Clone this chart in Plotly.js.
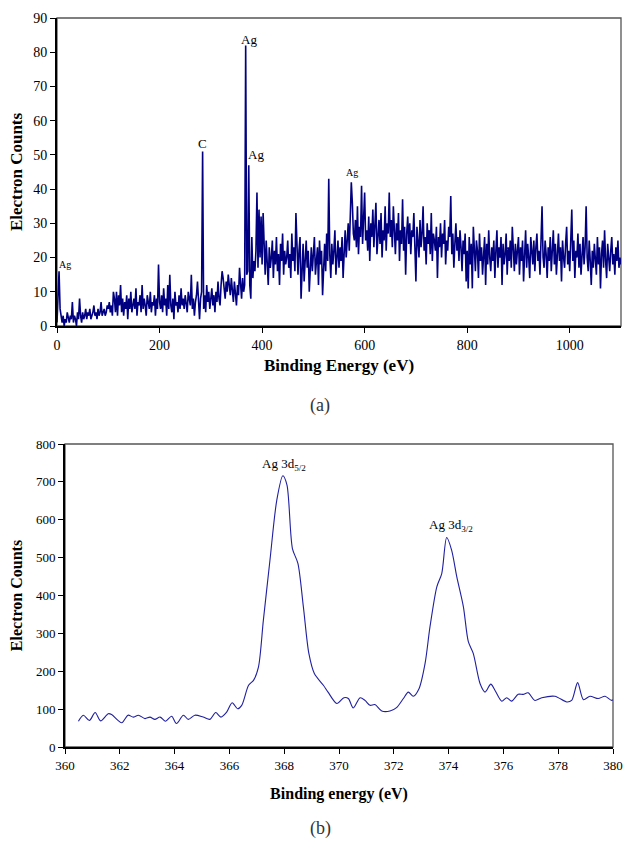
<!DOCTYPE html>
<html>
<head>
<meta charset="utf-8">
<script src="https://cdn.plot.ly/plotly-3.0.1.min.js"></script>
<style>
html,body{margin:0;padding:0;background:#fff;}
#chart{width:624px;height:845px;}
</style>
</head>
<body>
<div id="chart"></div>
<script>
// ---- Survey spectrum (a): binding energy grid 0..1100 eV, 2 eV step ----
const surveyStart = 0;
const surveyStep = 2;
const surveyCounts = [
  1,9,16,5,2,1,3,0,2,1,4,2,1,3,2,7,1,3,2,0,4,2,8,3,1,
  4,2,3,5,2,4,3,5,2,3,4,6,3,4,2,5,3,4,7,3,4,5,3,4,6,
  5,7,4,6,3,10,8,4,10,3,9,6,12,4,8,3,7,5,9,2,8,5,10,4,6,
  8,5,11,3,7,6,9,4,12,5,8,6,3,9,7,5,10,4,7,6,9,3,8,5,18,
  7,5,9,4,11,6,8,3,12,5,15,6,4,8,2,10,6,7,4,9,5,11,6,8,5,
  9,6,4,10,7,6,15,5,8,3,7,9,13,6,2,8,10,51,5,9,4,12,7,10,5,
  8,11,6,9,4,10,7,13,8,6,12,16,14,11,8,13,10,15,12,9,14,11,7,13,10,
  6,12,9,17,11,8,14,10,12,82,15,16,47,12,8,26,14,19,16,22,39,17,34,20,32,
  18,33,21,15,25,19,12,23,17,20,25,14,22,18,26,16,21,12,24,19,27,15,22,18,20,
  25,17,21,14,27,19,23,16,33,20,15,22,26,8,18,24,13,21,25,17,22,10,19,23,16,
  21,26,15,19,23,12,25,18,22,9,20,24,16,27,19,43,21,14,24,18,22,28,15,20,25,
  17,23,19,26,14,21,28,20,24,30,22,33,42,36,27,25,31,23,35,21,29,26,41,24,30,
  39,25,28,22,32,19,30,26,34,23,29,36,21,27,31,24,33,20,28,25,35,22,30,27,39,
  26,31,23,35,28,21,30,25,33,19,28,24,37,22,29,15,27,32,24,30,21,28,26,33,23,
  13,29,25,20,31,23,27,35,22,26,18,30,24,28,21,33,19,27,25,22,29,14,26,23,30,
  20,27,24,31,18,25,22,29,26,38,21,27,17,24,30,22,26,19,28,23,16,25,21,27,13,
  22,11,26,18,24,11,29,20,16,25,22,14,27,19,23,15,21,26,12,24,18,28,20,16,23,
  19,25,14,22,28,17,23,20,26,12,24,18,21,27,15,23,19,25,17,29,21,16,24,18,22,
  26,15,23,19,25,13,22,28,17,24,20,14,26,21,18,25,16,23,27,19,22,15,24,35,20,
  17,25,21,14,23,19,26,16,22,28,18,24,15,21,27,19,23,13,25,20,17,24,29,18,22,
  16,23,34,19,25,14,22,20,27,17,24,15,21,26,18,23,35,20,16,25,19,12,22,17,24,
  20,15,26,18,23,11,21,25,17,28,19,14,24,20,16,22,26,18,21,15,23,19,25,17,20,
  18
];
const surveyEnergy = surveyCounts.map((_, i) => surveyStart + i * surveyStep);

const surveyLabels = ["Ag", "C", "Ag", "Ag", "Ag"];
const surveyLabelX = [15.6, 283.5, 375, 389, 575];
const surveyLabelY = [18.1, 53.2, 83.6, 50, 44.8];
const surveyLabelSize = [10, 13, 13, 13, 10];

// ---- Ag 3d high-resolution spectrum (b) ----
const agEnergy = [
  360.49,360.67,360.89,361.10,361.30,361.58,361.70,362.07,362.30,362.49,
  362.68,362.92,363.10,363.28,363.47,363.67,363.89,364.07,364.32,364.50,
  364.74,365.04,365.29,365.50,365.69,365.90,366.10,366.30,366.45,366.70,
  366.88,367.06,367.24,367.48,367.73,367.95,368.10,368.30,368.50,368.70,
  368.90,369.10,369.43,369.60,369.92,370.18,370.34,370.52,370.77,370.95,
  371.13,371.31,371.56,371.86,372.10,372.35,372.53,372.71,372.92,373.14,
  373.32,373.57,373.75,373.93,374.11,374.30,374.54,374.72,374.90,375.15,
  375.33,375.54,375.69,375.94,376.12,376.30,376.54,376.72,376.90,377.15,
  377.40,377.88,378.31,378.49,378.71,378.92,379.16,379.46,379.71,379.95,
  380.10
];
const agCounts = [
  68,84,70,91,69,88,86,64,84,79,
  84,75,79,73,79,68,81,62,84,73,
  84,79,73,91,79,92,117,101,110,163,
  176,211,335,493,652,716,692,524,485,370,
  247,194,163,145,115,130,128,103,130,123,
  110,112,95,95,104,128,145,134,154,220,
  317,423,458,553,520,449,370,278,247,167,
  145,166,150,121,130,121,139,139,143,123,
  130,134,119,123,170,125,134,128,134,123,
  130
];
const agLabels = ["Ag 3d<sub>5/2</sub>", "Ag 3d<sub>3/2</sub>"];
const agLabelX = [368.0, 374.1];
const agLabelY = [747, 584];

const serif = "'Liberation Serif', 'Times New Roman', 'DejaVu Serif', serif";
const W = 624, H = 845;

const traces = [
  {
    x: surveyEnergy, y: surveyCounts, type: "scatter", mode: "lines",
    line: {color: "#000080", width: 1.6}, xaxis: "x", yaxis: "y",
    hoverinfo: "skip"
  },
  {
    x: agEnergy, y: agCounts, type: "scatter", mode: "lines",
    line: {color: "#1f1fa0", width: 1.1, shape: "spline", smoothing: 0.8},
    xaxis: "x2", yaxis: "y2", hoverinfo: "skip"
  }
];

const annotations = [];
surveyLabels.forEach((t, i) => annotations.push({
  x: surveyLabelX[i], y: surveyLabelY[i], xref: "x", yref: "y", text: t,
  showarrow: false, xanchor: "center", yanchor: "middle",
  font: {family: serif, size: surveyLabelSize[i], color: "#000"}
}));
agLabels.forEach((t, i) => annotations.push({
  x: agLabelX[i], y: agLabelY[i], xref: "x2", yref: "y2", text: t,
  showarrow: false, xanchor: "center", yanchor: "middle",
  font: {family: serif, size: 13, color: "#000"}
}));
annotations.push({x: 320 / W, y: 1 - 405 / H, xref: "paper", yref: "paper", text: "(a)",
  showarrow: false, xanchor: "center", yanchor: "middle",
  font: {family: serif, size: 18, color: "#333"}});
annotations.push({x: 320 / W, y: 1 - 828 / H, xref: "paper", yref: "paper", text: "(b)",
  showarrow: false, xanchor: "center", yanchor: "middle",
  font: {family: serif, size: 18, color: "#333"}});

const baseAxis = {
  showgrid: false, zeroline: false, showline: true, linecolor: "#000", linewidth: 2,
  ticks: "outside", ticklen: 5, tickwidth: 1, tickcolor: "#000",
  mirror: false, fixedrange: true
};

const layout = {
  width: W, height: H,
  margin: {l: 0, r: 0, t: 0, b: 0},
  paper_bgcolor: "#fff", plot_bgcolor: "#fff",
  showlegend: false,
  font: {family: serif, color: "#000"},
  xaxis: Object.assign({}, baseAxis, {
    domain: [57 / W, 621 / W], range: [0, 1100], dtick: 200, anchor: "y",
    tickfont: {family: serif, size: 14, color: "#000"},
    title: {text: "<b>Binding Energy (eV)</b>", font: {family: serif, size: 17, color: "#000"}, standoff: 7}
  }),
  yaxis: Object.assign({}, baseAxis, {
    domain: [1 - 326 / H, 1 - 18 / H], range: [0, 90], dtick: 10, anchor: "x",
    tickfont: {family: serif, size: 14, color: "#000"},
    title: {text: "<b>Electron Counts</b>", font: {family: serif, size: 17, color: "#000"}, standoff: 6}
  }),
  xaxis2: Object.assign({}, baseAxis, {
    domain: [65 / W, 613 / W], range: [360, 380], dtick: 2, anchor: "y2",
    tickfont: {family: serif, size: 13, color: "#000"},
    title: {text: "<b>Binding energy (eV)</b>", font: {family: serif, size: 16, color: "#000"}, standoff: 16}
  }),
  yaxis2: Object.assign({}, baseAxis, {
    domain: [1 - 747 / H, 1 - 444 / H], range: [0, 800], dtick: 100, anchor: "x2",
    tickfont: {family: serif, size: 13, color: "#000"},
    title: {text: "<b>Electron Counts</b>", font: {family: serif, size: 16, color: "#000"}, standoff: 9}
  }),
  shapes: [
    {type: "rect", xref: "x domain", yref: "y domain", x0: 0, x1: 1, y0: 0, y1: 1,
     line: {color: "#555", width: 1.3}, layer: "below"},
    {type: "rect", xref: "x2 domain", yref: "y2 domain", x0: 0, x1: 1, y0: 0, y1: 1,
     line: {color: "#555", width: 1.3}, layer: "below"}
  ],
  annotations: annotations
};

Plotly.newPlot("chart", traces, layout, {displayModeBar: false, staticPlot: true});
</script>
</body>
</html>
